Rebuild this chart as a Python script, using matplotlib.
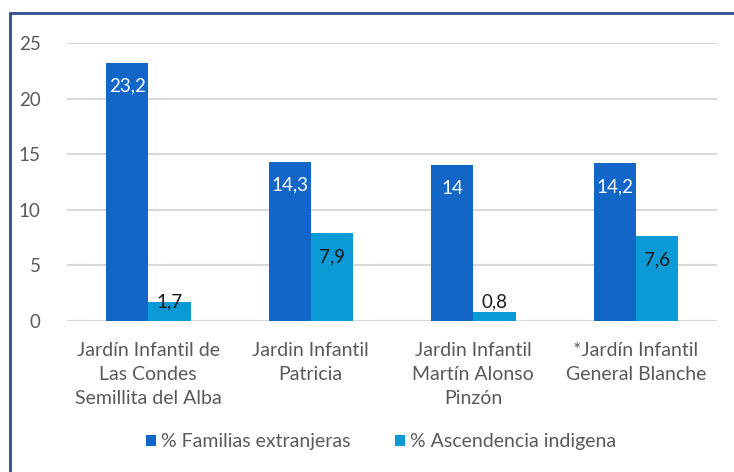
import matplotlib
matplotlib.use("Agg")
import matplotlib.pyplot as plt
import numpy as np
from matplotlib.patches import Rectangle

plt.rcParams['font.family'] = ['Lato', 'DejaVu Sans']

categories = ["Jardín Infantil de\nLas Condes\nSemillita del Alba",
              "Jardin Infantil\nPatricia",
              "Jardin Infantil\nMartín Alonso\nPinzón",
              "*Jardín Infantil\nGeneral Blanche"]
familias = [23.2, 14.3, 14.0, 14.2]
indigena = [1.7, 7.9, 0.8, 7.6]
fam_labels = ["23,2", "14,3", "14", "14,2"]
ind_labels = ["1,7", "7,9", "0,8", "7,6"]
series_names = ["% Familias extranjeras", "% Ascendencia indigena"]
yticks = [0, 5, 10, 15, 20, 25]

c_dark = "#1166C8"
c_light = "#0A9AD6"
grey = "#595959"

fig = plt.figure(figsize=(7.34, 4.72), dpi=100)
ax = fig.add_axes([67/734, 1-321/472, 650/734, 278/472])

x = np.arange(len(categories))
w = 0.26
b1 = ax.bar(x - w/2, familias, w, color=c_dark, label=series_names[0], zorder=3)
b2 = ax.bar(x + w/2, indigena, w, color=c_light, label=series_names[1], zorder=3)

for xi, v, lab in zip(x, familias, fam_labels):
    ax.text(xi - w/2, v - 2.1, lab, ha='center', va='center', color='white', fontsize=13.5, zorder=4)
for xi, v, lab in zip(x, indigena, ind_labels):
    yy = v - 2.1 if v > 4 else 1.75
    ax.text(xi + w/2, yy, lab, ha='center', va='center', color='#1a1a1a', fontsize=13.5, zorder=4)

ax.set_xlim(-0.5, len(categories) - 0.5)
ax.set_ylim(0, 25)
ax.set_yticks(yticks)
ax.set_yticklabels([str(t) for t in yticks])
ax.set_xticks(x)
ax.set_xticklabels(categories, linespacing=1.5)
ax.tick_params(axis='y', length=0, pad=19, labelsize=13.5, labelcolor=grey)
ax.tick_params(axis='x', length=0, pad=15, labelsize=14, labelcolor=grey)
ax.grid(axis='y', color='#d9d9d9', linewidth=1.5, zorder=0)
for s in ax.spines.values():
    s.set_visible(False)

leg = fig.legend(handles=[b1, b2], labels=series_names, loc='center',
                 bbox_to_anchor=(381/734, 1-442/472), ncol=2, frameon=False,
                 fontsize=14, handlelength=0.5, handleheight=0.5, handletextpad=0.25,
                 columnspacing=2.3, labelcolor=grey)

# outer frame (chart area border)
fig.patches.append(Rectangle((10/734, -0.1), 1.1, 1 - 13/472 + 0.1, transform=fig.transFigure,
                             fill=False, edgecolor="#2E4E8C", linewidth=2, zorder=10))

fig.savefig("out.png", dpi=100)
